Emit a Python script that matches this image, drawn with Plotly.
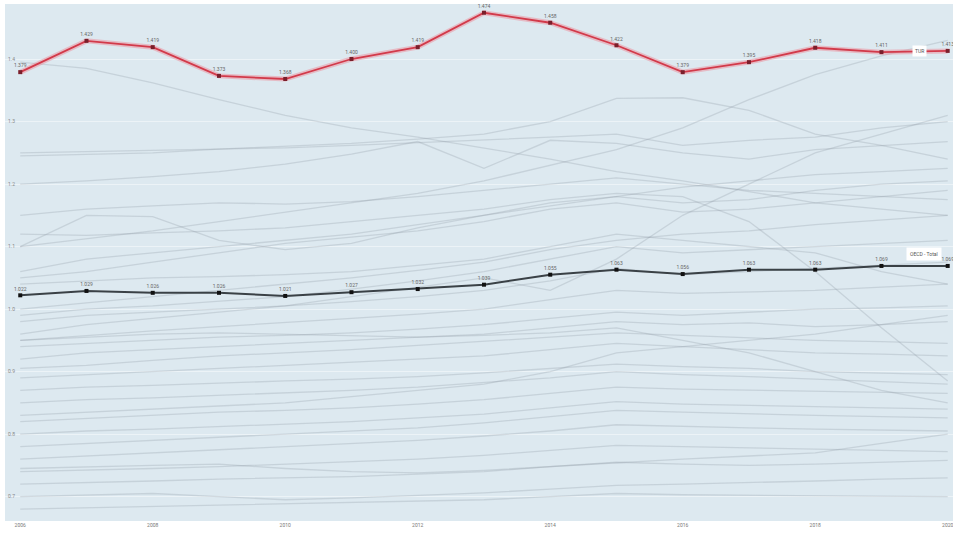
import plotly.graph_objects as go

years = list(range(2006, 2021))
x_tick_years = [2006, 2008, 2010, 2012, 2014, 2016, 2018, 2020]
y_ticks = [0.7, 0.8, 0.9, 1.0, 1.1, 1.2, 1.3, 1.4]

highlight_name = "TUR"
highlight_values = [1.379, 1.429, 1.419, 1.373, 1.368, 1.400, 1.419, 1.474,
                    1.458, 1.422, 1.379, 1.395, 1.418, 1.411, 1.413]

oecd_name = "OECD - Total"
oecd_values = [1.022, 1.029, 1.026, 1.026, 1.021, 1.027, 1.032, 1.039,
               1.055, 1.063, 1.056, 1.063, 1.063, 1.069, 1.069]

g01 = [1.245, 1.248, 1.250, 1.256, 1.260, 1.265, 1.272, 1.280, 1.300, 1.337, 1.338, 1.318, 1.280, 1.262, 1.240]
g02 = [1.200, 1.205, 1.212, 1.220, 1.232, 1.248, 1.268, 1.225, 1.270, 1.265, 1.250, 1.240, 1.255, 1.262, 1.268]
g03 = [1.100, 1.112, 1.125, 1.140, 1.155, 1.170, 1.185, 1.205, 1.230, 1.255, 1.290, 1.335, 1.375, 1.405, 1.430]
g04 = [1.395, 1.385, 1.362, 1.335, 1.310, 1.290, 1.275, 1.258, 1.240, 1.220, 1.205, 1.188, 1.170, 1.160, 1.150]
g05 = [1.100, 1.150, 1.148, 1.110, 1.095, 1.105, 1.130, 1.150, 1.170, 1.180, 1.170, 1.175, 1.190, 1.200, 1.205]
g06 = [0.960, 0.975, 0.985, 0.995, 1.005, 1.020, 1.035, 1.050, 1.030, 1.080, 1.150, 1.200, 1.250, 1.280, 1.310]
g07 = [1.120, 1.118, 1.122, 1.125, 1.130, 1.140, 1.150, 1.160, 1.175, 1.185, 1.180, 1.140, 1.060, 0.970, 0.885]
g08 = [1.250, 1.252, 1.255, 1.257, 1.258, 1.262, 1.266, 1.270, 1.275, 1.280, 1.262, 1.270, 1.275, 1.290, 1.300]
g09 = [1.060, 1.080, 1.090, 1.100, 1.110, 1.120, 1.135, 1.150, 1.165, 1.180, 1.195, 1.205, 1.215, 1.220, 1.225]
g10 = [1.050, 1.060, 1.075, 1.090, 1.105, 1.115, 1.125, 1.140, 1.160, 1.170, 1.155, 1.160, 1.170, 1.180, 1.190]
g11 = [1.000, 1.010, 1.020, 1.030, 1.040, 1.050, 1.062, 1.075, 1.095, 1.110, 1.120, 1.125, 1.135, 1.142, 1.150]
g12 = [0.990, 1.000, 1.005, 1.012, 1.020, 1.032, 1.045, 1.060, 1.080, 1.100, 1.090, 1.095, 1.100, 1.105, 1.110]
g13 = [0.980, 0.990, 0.995, 1.000, 1.005, 1.012, 1.020, 1.030, 1.045, 1.065, 1.055, 1.060, 1.065, 1.070, 1.075]
g14 = [0.950, 0.958, 0.965, 0.972, 0.978, 0.985, 0.992, 1.000, 1.015, 1.030, 1.025, 1.028, 1.030, 1.035, 1.040]
g15 = [0.940, 0.945, 0.950, 0.955, 0.958, 0.962, 0.968, 0.975, 0.985, 0.995, 0.990, 0.995, 1.000, 1.002, 1.005]
g16 = [0.920, 0.930, 0.935, 0.940, 0.945, 0.950, 0.955, 0.960, 0.970, 0.980, 0.975, 0.978, 0.972, 0.975, 0.980]
g17 = [0.905, 0.910, 0.918, 0.925, 0.930, 0.935, 0.942, 0.948, 0.955, 0.962, 0.958, 0.955, 0.950, 0.948, 0.945]
g18 = [0.890, 0.895, 0.900, 0.905, 0.910, 0.915, 0.920, 0.925, 0.935, 0.945, 0.940, 0.935, 0.930, 0.928, 0.925]
g19 = [0.870, 0.875, 0.878, 0.882, 0.885, 0.888, 0.892, 0.898, 0.905, 0.912, 0.908, 0.905, 0.900, 0.898, 0.895]
g20 = [0.850, 0.855, 0.858, 0.862, 0.865, 0.870, 0.875, 0.882, 0.890, 0.900, 0.895, 0.892, 0.888, 0.885, 0.880]
g21 = [0.820, 0.825, 0.830, 0.835, 0.838, 0.842, 0.848, 0.855, 0.865, 0.875, 0.872, 0.870, 0.868, 0.866, 0.865]
g22 = [0.800, 0.805, 0.808, 0.812, 0.815, 0.820, 0.826, 0.832, 0.842, 0.852, 0.848, 0.846, 0.844, 0.842, 0.840]
g23 = [0.780, 0.785, 0.790, 0.795, 0.800, 0.805, 0.810, 0.818, 0.828, 0.838, 0.835, 0.832, 0.830, 0.828, 0.826]
g24 = [0.760, 0.765, 0.770, 0.775, 0.780, 0.785, 0.790, 0.797, 0.805, 0.815, 0.812, 0.810, 0.808, 0.806, 0.805]
g25 = [0.740, 0.742, 0.745, 0.748, 0.752, 0.756, 0.760, 0.766, 0.774, 0.782, 0.780, 0.778, 0.776, 0.774, 0.772]
g26 = [0.720, 0.722, 0.725, 0.728, 0.730, 0.732, 0.736, 0.740, 0.748, 0.755, 0.752, 0.750, 0.752, 0.755, 0.758]
g27 = [0.700, 0.702, 0.705, 0.700, 0.695, 0.698, 0.702, 0.706, 0.712, 0.718, 0.720, 0.722, 0.725, 0.728, 0.730]
g28 = [0.680, 0.682, 0.684, 0.686, 0.688, 0.690, 0.692, 0.695, 0.700, 0.705, 0.703, 0.702, 0.701, 0.700, 0.700]
g29 = [0.745, 0.748, 0.750, 0.752, 0.745, 0.740, 0.738, 0.742, 0.748, 0.755, 0.760, 0.765, 0.770, 0.785, 0.800]
g30 = [0.830, 0.835, 0.840, 0.845, 0.850, 0.860, 0.870, 0.880, 0.900, 0.930, 0.940, 0.950, 0.960, 0.975, 0.990]
g31 = [0.950, 0.955, 0.960, 0.962, 0.960, 0.958, 0.955, 0.958, 0.962, 0.970, 0.950, 0.930, 0.900, 0.870, 0.850]
g32 = [1.150, 1.160, 1.165, 1.170, 1.168, 1.172, 1.180, 1.190, 1.200, 1.210, 1.200, 1.190, 1.185, 1.180, 1.175]
g33 = [1.040, 1.045, 1.050, 1.052, 1.055, 1.060, 1.070, 1.080, 1.100, 1.120, 1.110, 1.100, 1.090, 1.060, 1.040]

gray_series = [g01, g02, g03, g04, g05, g06, g07, g08, g09, g10, g11, g12, g13, g14, g15,
               g16, g17, g18, g19, g20, g21, g22, g23, g24, g25, g26, g27, g28, g29, g30,
               g31, g32, g33]

fig = go.Figure()

for s in gray_series:
    fig.add_trace(go.Scatter(
        x=years, y=s, mode="lines",
        line=dict(color="rgba(140,150,160,0.28)", width=1.3),
        hoverinfo="skip", showlegend=False,
    ))

# highlighted country: halo + line
fig.add_trace(go.Scatter(
    x=years, y=highlight_values, mode="lines",
    line=dict(color="rgba(240,130,145,0.45)", width=5),
    hoverinfo="skip", showlegend=False, cliponaxis=False,
))
fig.add_trace(go.Scatter(
    x=years, y=highlight_values, mode="lines+markers+text",
    line=dict(color="#d23a4a", width=1.8),
    marker=dict(color="#7a1f2b", size=4, symbol="square"),
    text=[f"{v:.3f}" for v in highlight_values],
    textposition="top center",
    textfont=dict(size=5, color="#666666", family="Roboto"),
    showlegend=False, cliponaxis=False,
))

fig.add_trace(go.Scatter(
    x=years, y=oecd_values, mode="lines+markers+text",
    line=dict(color="#3a4146", width=2),
    marker=dict(color="#111111", size=4, symbol="square"),
    text=[f"{v:.3f}" for v in oecd_values],
    textposition="top center",
    textfont=dict(size=5, color="#666666", family="Roboto"),
    showlegend=False, cliponaxis=False,
))

fig.add_annotation(
    x=years[-1], y=highlight_values[-1], xref="x", yref="y",
    text=highlight_name, showarrow=False, xshift=-28, yshift=0,
    font=dict(size=5, color="#555555", family="Roboto"),
    bgcolor="white", borderpad=2,
)
fig.add_annotation(
    x=years[-1], y=oecd_values[-1], xref="x", yref="y",
    text=oecd_name, showarrow=False, xshift=-24, yshift=12,
    font=dict(size=5, color="#555555", family="Roboto"),
    bgcolor="white", borderpad=3,
)

fig.update_layout(
    width=953, height=534,
    margin=dict(l=5, r=0, t=4, b=13),
    paper_bgcolor="white",
    plot_bgcolor="#dde9f0",
    showlegend=False,
    hovermode=False,
    font=dict(family="Roboto", size=6, color="#888888"),
    xaxis=dict(
        range=[2005.77, 2020.08],
        tickvals=x_tick_years,
        ticktext=[str(y) for y in x_tick_years],
        showgrid=False, zeroline=False, showline=False,
        tickfont=dict(size=5, color="#777777"),
        ticks="", automargin=False,
        ticklabeloverflow="allow",
    ),
    yaxis=dict(
        range=[0.661, 1.488],
        tickvals=y_ticks,
        ticktext=[f"{v:.1f}" for v in y_ticks],
        ticklabelposition="inside",
        showgrid=True, gridcolor="rgba(255,255,255,0.45)", gridwidth=1,
        zeroline=False, showline=False,
        tickfont=dict(size=5, color="#888888"),
        automargin=False,
    ),
)

fig.write_html(
    "out.html",
    config={"displayModeBar": False},
    post_script="document.body.style.margin='0';document.body.style.overflow='hidden';",
)
